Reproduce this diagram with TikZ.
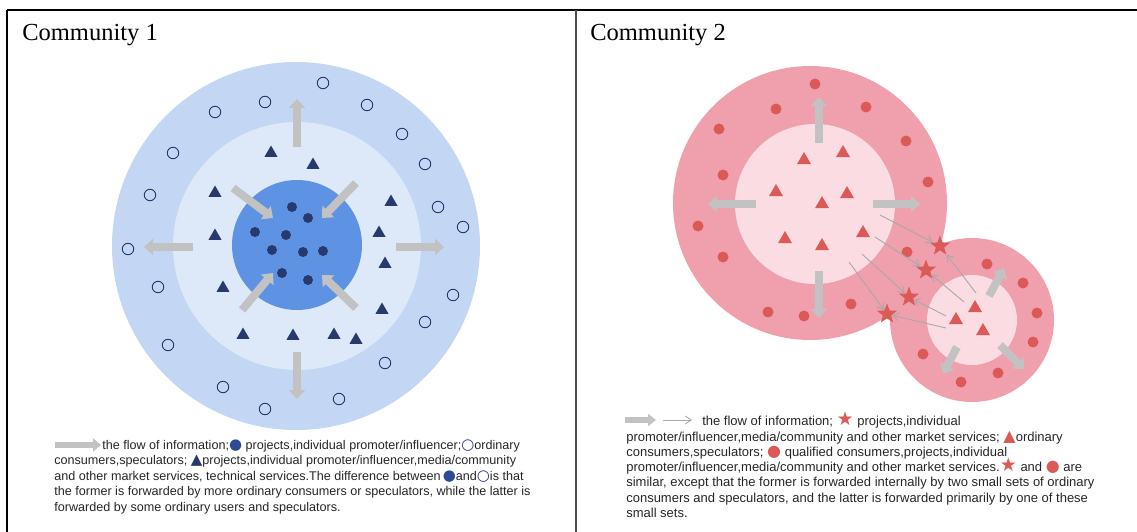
\documentclass[tikz,border=0pt]{standalone}
\usepackage{fontspec}
\setmainfont{Liberation Serif}
\setsansfont{Liberation Sans}
\newfontfamily\symfont{DejaVu Sans}
\usepackage{xcolor}
\usetikzlibrary{arrows.meta,shapes.geometric}

\definecolor{ringout}{HTML}{C3D6F3}
\definecolor{ringmid}{HTML}{DDE8F8}
\definecolor{ringin}{HTML}{5E92E2}
\definecolor{navy}{HTML}{28396E}
\definecolor{legblue}{HTML}{2D4A96}
\definecolor{pinkout}{HTML}{F09FAD}
\definecolor{pinkin}{HTML}{FADCE2}
\definecolor{redmark}{HTML}{DB5A58}
\definecolor{flowgray}{HTML}{C2C2C2}
\definecolor{thingray}{HTML}{A9A9A9}

% coloured symbol inside the legend text
\newcommand{\legsym}[3]{\smash{\textcolor{#1}{\symfont\fontsize{#2}{#2}\selectfont #3}}}

\tikzset{
  dot/.style={circle, fill=navy, inner sep=0pt, minimum size=10pt},
  hollow/.style={circle, draw=navy, line width=0.9pt, inner sep=0pt, minimum size=11.5pt},
  tri/.style={regular polygon, regular polygon sides=3, fill=navy, inner sep=0pt, minimum size=15pt},
  rdot/.style={circle, fill=redmark, inner sep=0pt, minimum size=11pt},
  rtri/.style={tri, fill=redmark, minimum size=16pt},
  rstar/.style={star, star points=5, star point ratio=2.4, fill=redmark, inner sep=0pt, minimum size=21pt},
  flow/.style={flowgray, line width=8pt, -{Triangle[width=16pt,length=9pt]}},
  info/.style={thingray, line width=0.9pt, ->},
  legend/.style={font=\sffamily, align=left, inner sep=0pt, anchor=north west, text=black!85}
}

\begin{document}
\begin{tikzpicture}[
            x = 1pt, y = -1pt, % one unit is one pixel, y going down
            > = {Straight Barb[length=6pt,width=8pt]}, % arrow head style
            semithick % line style
        ]
\useasboundingbox (0,0) rectangle (1137,532);

% frame
\draw[line width=1.5pt] (7,10) -- (1137,10);
\draw[line width=1.5pt] (7,10) -- (7,532);
\draw[line width=2pt, black!70] (576,10) -- (576,532);

\node[font=\fontsize{24.5}{28}\selectfont, anchor=base west, inner sep=0pt] (T1) at (22,41) {Community 1};
\node[font=\fontsize{24.5}{28}\selectfont, anchor=base west, inner sep=0pt] (T2) at (590,41) {Community 2};

% community 1
\fill[ringout] (296,246) circle (184);
\fill[ringmid] (297,246) circle (124);
\fill[ringin] (297,245) circle (65);

\draw[flow] (297,147) -- (297,99);
\draw[flow] (297,352) -- (297,399);
\draw[flow] (193,247) -- (144,247);
\draw[flow] (396,247) -- (444,247);
\draw[flow] (233,188) -- (273,218);
\draw[flow] (356,183) -- (322,218);
\draw[flow] (242,310) -- (273,273);
\draw[flow] (356,308) -- (322,275);

\node[hollow] (o1) at (323,83) {};
\node[hollow] (o2) at (265,102) {};
\node[hollow] (o3) at (215,112) {};
\node[hollow] (o4) at (367,105) {};
\node[hollow] (o5) at (173,153) {};
\node[hollow] (o6) at (402,134) {};
\node[hollow] (o7) at (425,164) {};
\node[hollow] (o8) at (150,195) {};
\node[hollow] (o9) at (438,207) {};
\node[hollow] (o10) at (463,227) {};
\node[hollow] (o11) at (128,249) {};
\node[hollow] (o12) at (158,287) {};
\node[hollow] (o13) at (453,295) {};
\node[hollow] (o14) at (425,322) {};
\node[hollow] (o15) at (168,345) {};
\node[hollow] (o16) at (385,363) {};
\node[hollow] (o17) at (223,387) {};
\node[hollow] (o18) at (339,399) {};
\node[hollow] (o19) at (265,409) {};

\node[tri] (t1) at (271,153) {};
\node[tri] (t2) at (313,165) {};
\node[tri] (t3) at (215,193) {};
\node[tri] (t4) at (391,202) {};
\node[tri] (t5) at (215,236) {};
\node[tri] (t6) at (379,233) {};
\node[tri] (t7) at (385,264) {};
\node[tri] (t8) at (223,288) {};
\node[tri] (t9) at (382,310) {};
\node[tri] (t10) at (243,335) {};
\node[tri] (t11) at (293,336) {};
\node[tri] (t12) at (334,335) {};
\node[tri] (t13) at (356,340) {};

\node[dot] (d1) at (292,207) {};
\node[dot] (d2) at (308,218) {};
\node[dot] (d3) at (255,232) {};
\node[dot] (d4) at (286,235) {};
\node[dot] (d5) at (272,250) {};
\node[dot] (d6) at (303,252) {};
\node[dot] (d7) at (323,251) {};
\node[dot] (d8) at (282,273) {};
\node[dot] (d9) at (308,280) {};

% community 2
\fill[pinkout] (810,203) circle (137);
\fill[pinkin] (815,204) circle (80);
\fill[pinkout] (972,320) circle (82);
\fill[pinkin] (972,320) circle (45);

\draw[flow] (819,143) -- (819,97);
\draw[flow] (819,271) -- (819,318);
\draw[flow] (756,204) -- (708,204);
\draw[flow] (873,204) -- (920,204);
\draw[flow] (989,296) -- (1004,268);
\draw[flow] (1000,345) -- (1024,369);
\draw[flow] (957,347) -- (943,374);

\node[rdot] (r1) at (815,84) {};
\node[rdot] (r2) at (776,109) {};
\node[rdot] (r3) at (866,107) {};
\node[rdot] (r4) at (719,129) {};
\node[rdot] (r5) at (906,141) {};
\node[rdot] (r6) at (723,175) {};
\node[rdot] (r7) at (928,182) {};
\node[rdot] (r8) at (698,226) {};
\node[rdot] (r9) at (723,257) {};
\node[rdot] (r10) at (907,252) {};
\node[rdot] (r11) at (768,312) {};
\node[rdot] (r12) at (804,316) {};
\node[rdot] (r13) at (851,304) {};

\node[rdot] (s1) at (987,264) {};
\node[rdot] (s2) at (1023,283) {};
\node[rdot] (s3) at (1037,313) {};
\node[rdot] (s4) at (1033,342) {};
\node[rdot] (s5) at (923,354) {};
\node[rdot] (s6) at (998,373) {};
\node[rdot] (s7) at (961,382) {};

\node[rtri] (a1) at (804,160) {};
\node[rtri] (a2) at (843,153) {};
\node[rtri] (a3) at (776,192) {};
\node[rtri] (a4) at (847,194) {};
\node[rtri] (a5) at (822,204) {};
\node[rtri] (a6) at (785,239) {};
\node[rtri] (a7) at (822,246) {};
\node[rtri] (a8) at (863,233) {};

\node[rtri] (b1) at (975,308) {};
\node[rtri] (b2) at (956,320) {};
\node[rtri] (b3) at (983,331) {};

\node[rstar] (st1) at (940,246) {};
\node[rstar] (st2) at (926,270) {};
\node[rstar] (st3) at (909,297) {};
\node[rstar] (st4) at (887,314) {};

\coordinate (p1) at (880,215);
\coordinate (p2) at (875,237);
\coordinate (p3) at (862,254);
\coordinate (p4) at (849,262);
\coordinate (q1) at (976,293);
\coordinate (q2) at (964,302);
\coordinate (q3) at (946,316);
\coordinate (q4) at (946,328);

\draw[info] (p1) -- (st1);
\draw[info] (p2) -- (st2);
\draw[info] (p3) -- (st3);
\draw[info] (p4) -- (st4);
\draw[info] (q1) -- (st1);
\draw[info] (q2) -- (st2);
\draw[info] (q3) -- (st3);
\draw[info] (q4) -- (st4);

% legends
\draw[flow, line width=6.5pt, -{Triangle[width=13pt,length=8pt]}] (55,445) -- (101,445);
\node[legend, font=\sffamily\fontsize{12.6}{15.5}\selectfont] (L1) at (54,440) {\hspace*{48pt}the flow of information;\legsym{legblue}{15}{●} projects,individual promoter/influencer;\legsym{navy}{15}{○}ordinary\\
consumers,speculators; \legsym{navy}{15}{▲}projects,individual promoter/influencer,media/community\\
and other market services, technical services.The difference between\,\legsym{legblue}{15}{●}and\legsym{navy}{15}{○}is that\\
the former is forwarded by more ordinary consumers or speculators, while the latter is\\
forwarded by some ordinary users and speculators.};

\draw[flow, line width=6pt, -{Triangle[width=12pt,length=8pt]}] (625,420) -- (656,420);
\draw[info] (663,420) -- (692,420);
\node[legend, font=\sffamily\fontsize{13}{15.3}\selectfont] (L2) at (626,416) {\hspace*{76pt}the flow of information; \legsym{redmark}{19}{★} projects,individual\\
promoter/influencer,media/community and other market services; \legsym{redmark}{16}{▲}ordinary\\
consumers,speculators; \legsym{redmark}{16}{●} qualified consumers,projects,individual\\
promoter/influencer,media/community and other market services.\legsym{redmark}{19}{★} and \legsym{redmark}{16}{●} are\\
similar, except that the former is forwarded internally by two small sets of ordinary\\
consumers and speculators, and the latter is forwarded primarily by one of these\\
small sets.};
\end{tikzpicture}
\end{document}
